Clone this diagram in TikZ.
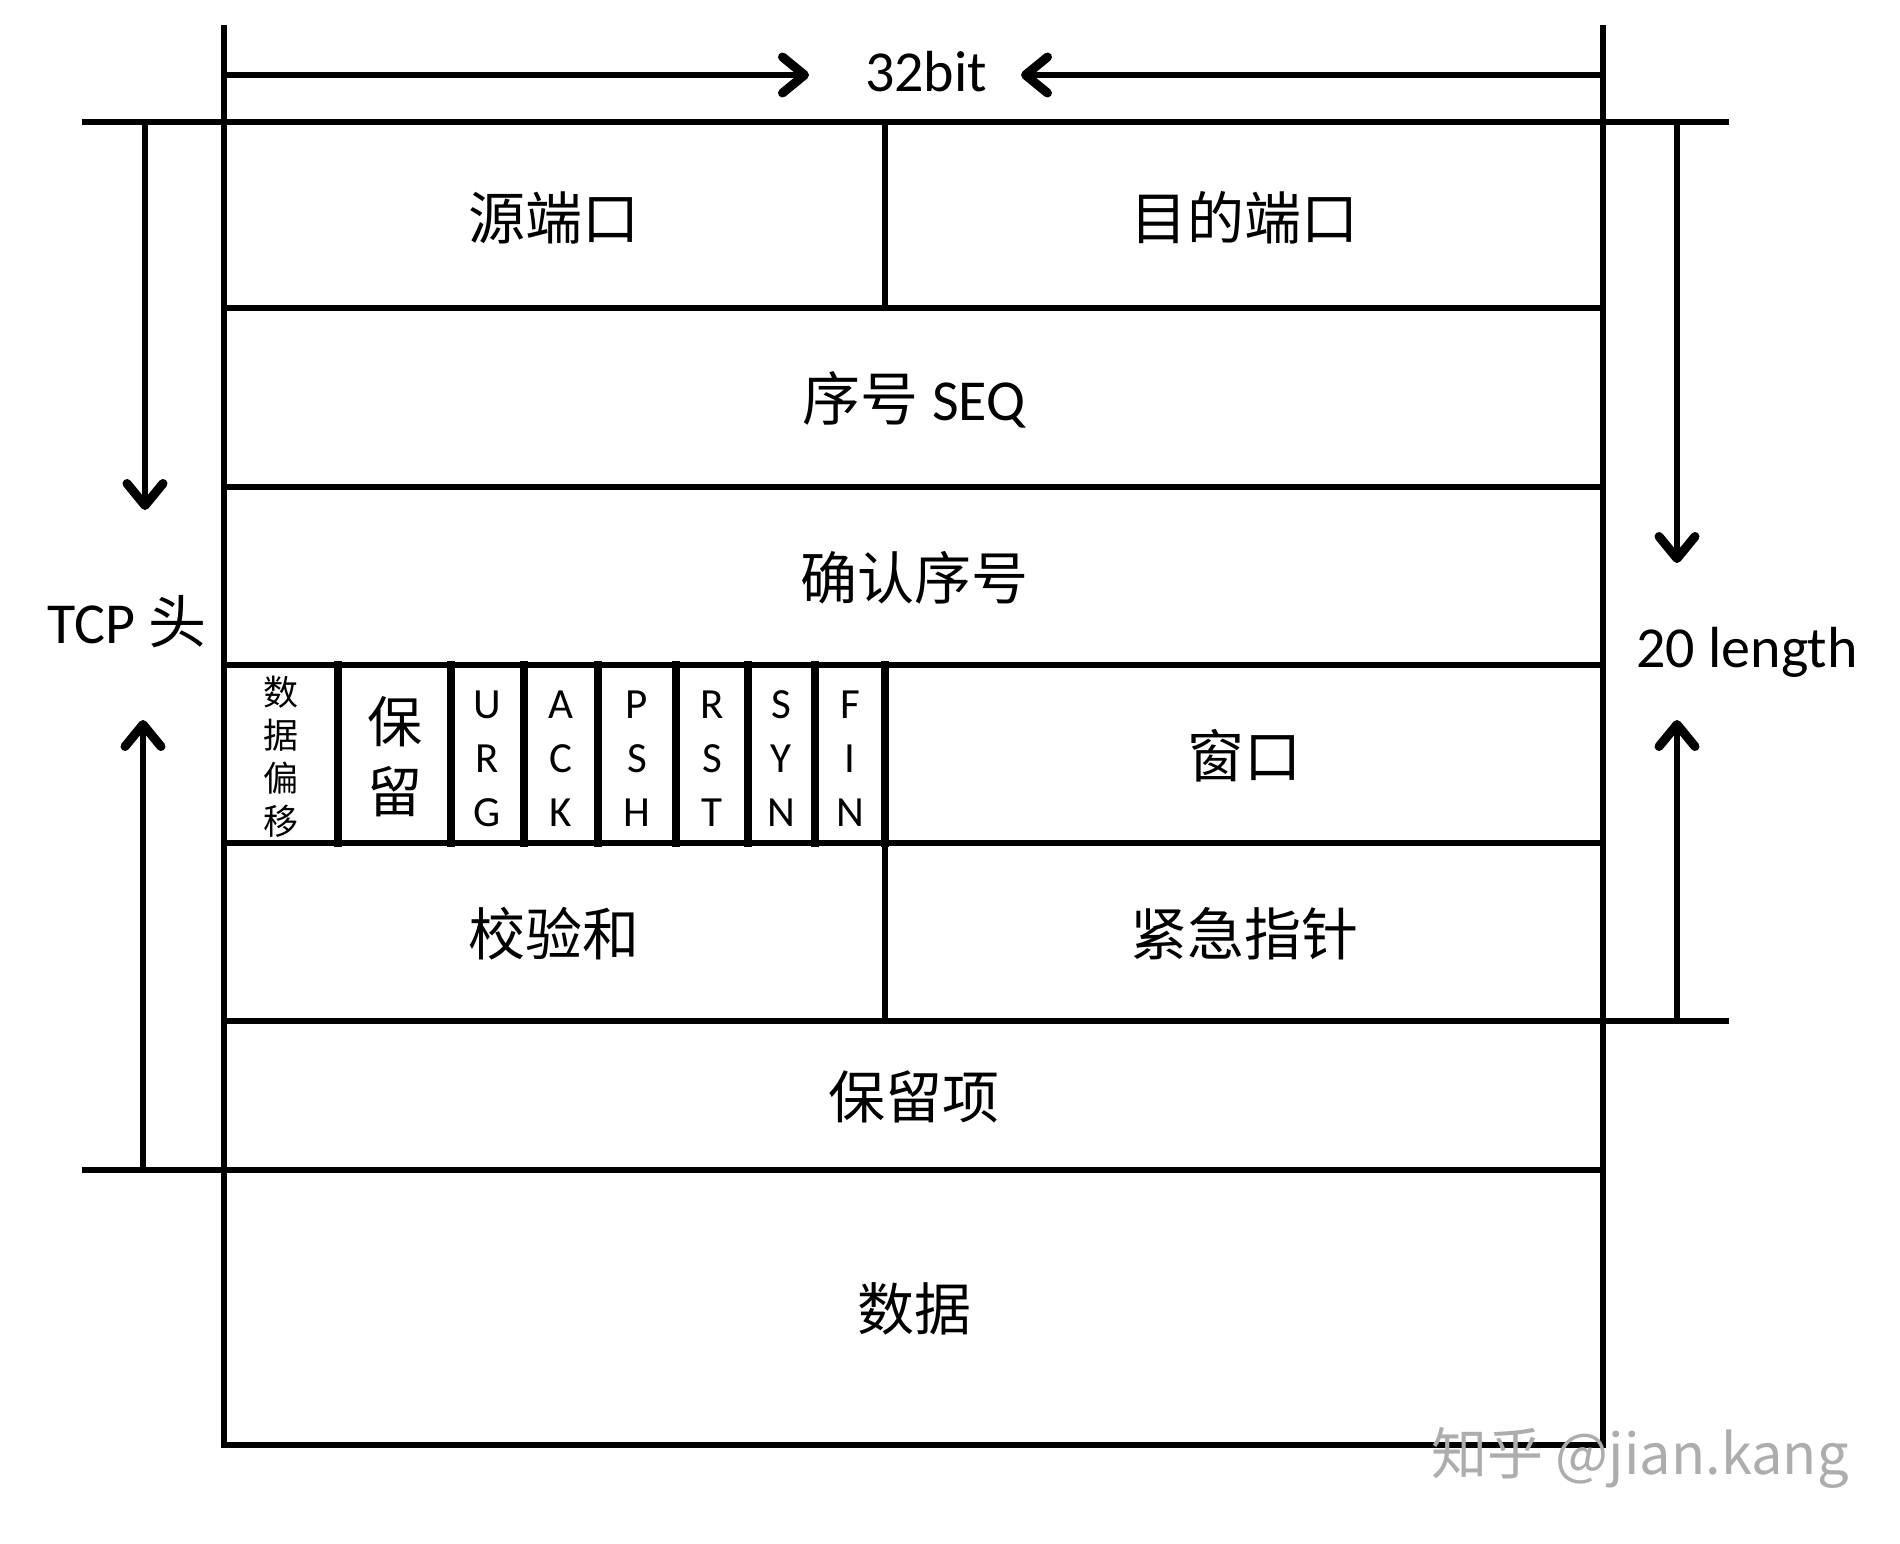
\documentclass[tikz,border=0pt]{standalone}
\usepackage{fontspec}
\setmainfont{Carlito}
\newfontfamily\cjk{Noto Sans CJK SC}
\usetikzlibrary{arrows.meta}
\tikzset{
  rule/.style={line width=6.5pt, line cap=rect},
  flagrule/.style={line width=8pt, line cap=rect},
  dimarrow/.style={line width=6.5pt, -{Straight Barb[length=22pt,width=36pt,line width=9pt,line join=round,line cap=round]}},
  big/.style={inner sep=0pt, font=\fontsize{58}{62}\selectfont},
  bigcjk/.style={inner sep=0pt, font=\fontsize{57}{62}\selectfont\cjk},
  flagtxt/.style={inner sep=0pt, align=center, font=\fontsize{43}{54}\selectfont},
  offtxt/.style={inner sep=0pt, align=center, font=\fontsize{35}{43}\selectfont\cjk},
  restxt/.style={inner sep=0pt, align=center, font=\fontsize{55}{70}\selectfont\cjk},
  wmark/.style={inner sep=0pt, text=black!32, font=\fontsize{56}{60}\selectfont\cjk}
}
\begin{document}
\begin{tikzpicture}[x=1pt,y=-1pt]
\useasboundingbox[fill=white] (0,0) rectangle (1900,1544);

% frame and grid
\draw[rule] (224,28) -- (224,1445) -- (1603,1445) -- (1603,28);
\draw[rule] (85,122) -- (1726,122);
\foreach \y in {308,487,665,843,1021,1170} \draw[rule] (224,\y) -- (1603,\y);
\draw[rule] (1603,1021) -- (1726,1021);
\draw[rule] (85,1170) -- (224,1170);
\draw[rule] (885,122) -- (885,308);
\draw[rule] (885,843) -- (885,1021);
\foreach \x in {338,451,524,598,676,748,815,885} \draw[flagrule] (\x,665) -- (\x,843);

% dimension arrows
\coordinate (tL) at (224,75);  \coordinate (tLtip) at (809,75);
\coordinate (tR) at (1603,75); \coordinate (tRtip) at (1021,75);
\draw[dimarrow] (tL) -- (tLtip);
\draw[dimarrow] (tR) -- (tRtip);
\coordinate (lTop) at (145,122); \coordinate (lTopTip) at (145,510);
\coordinate (lBot) at (143,1170); \coordinate (lBotTip) at (143,720);
\draw[dimarrow] (lTop) -- (lTopTip);
\draw[dimarrow] (lBot) -- (lBotTip);
\coordinate (rTop) at (1677,122); \coordinate (rTopTip) at (1677,563);
\coordinate (rBot) at (1677,1021); \coordinate (rBotTip) at (1677,720);
\draw[dimarrow] (rTop) -- (rTopTip);
\draw[dimarrow] (rBot) -- (rBotTip);

% labels
\node[big] (bits) at (926,72) {32bit};
\node[big] (tcp) at (127,622) {TCP {\cjk 头}};
\node[big] (len) at (1747,652) {20 length};

\node[bigcjk] (src) at (554,218) {源端口};
\node[bigcjk] (dst) at (1244,218) {目的端口};
\node[big] (seq) at (914,400) {{\cjk 序号} SEQ};
\node[bigcjk] (ack) at (914,578) {确认序号};
\node[offtxt] (off) at (281,757) {数\\据\\偏\\移};
\node[restxt] (res) at (395,757) {保\\留};
\node[flagtxt] (urg) at (487,759) {U\\R\\G};
\node[flagtxt] (ackf) at (561,759) {A\\C\\K};
\node[flagtxt] (psh) at (637,759) {P\\S\\H};
\node[flagtxt] (rst) at (712,759) {R\\S\\T};
\node[flagtxt] (syn) at (781,759) {S\\Y\\N};
\node[flagtxt] (fin) at (850,759) {F\\I\\N};
\node[bigcjk] (win) at (1244,756) {窗口};
\node[bigcjk] (chk) at (554,934) {校验和};
\node[bigcjk] (urgp) at (1244,934) {紧急指针};
\node[bigcjk] (opt) at (914,1097) {保留项};
\node[bigcjk] (data) at (914,1309) {数据};

\node[wmark] (wm) at (1640,1458) {知乎 @jian.kang};
\end{tikzpicture}
\end{document}
